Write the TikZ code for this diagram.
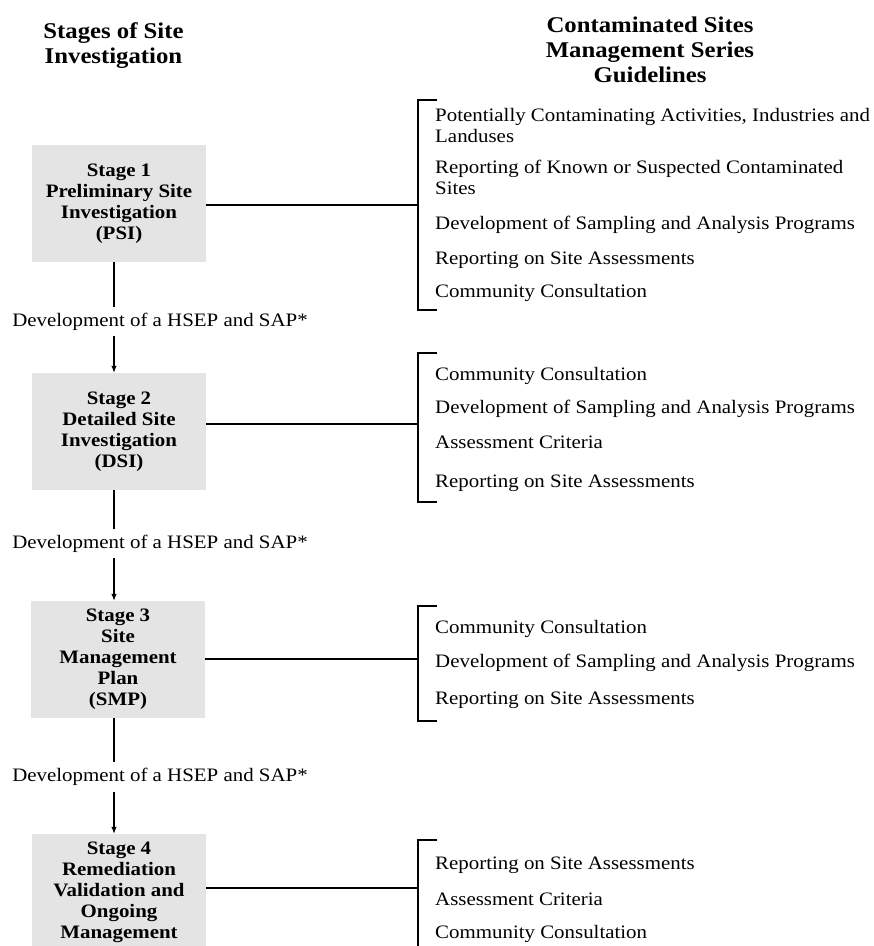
\documentclass[tikz,border=0pt]{standalone}
\usepackage{fontspec}
\setmainfont{Liberation Serif}[FakeStretch=1.1]
\usetikzlibrary{arrows.meta}
\definecolor{boxgray}{RGB}{228,228,228}
\begin{document}
\begin{tikzpicture}[x=1pt,y=-1pt,
  stagebox/.style={fill=boxgray, minimum width=174pt, minimum height=117pt, align=center, inner sep=0pt, font=\bfseries\fontsize{19}{21}\selectfont},
  item/.style={anchor=base west, inner sep=0pt, align=left, font=\fontsize{19}{21}\selectfont},
  itemtwo/.style={anchor=north west, inner sep=0pt, align=left, font=\fontsize{19}{21}\selectfont},
  flowlabel/.style={inner xsep=0pt, inner ysep=6pt, font=\fontsize{19}{21}\selectfont},
  header/.style={align=center, inner sep=0pt, font=\bfseries\fontsize{22.5}{25}\selectfont},
  conn/.style={line width=1.1pt},
  arr/.style={line width=1.1pt, -{Latex[length=7pt,width=5.5pt]}},
]
\useasboundingbox (0,0) rectangle (874,946);
\clip (0,0) rectangle (874,946);

% headers
\node[header] (h1) at (113.5,46) {Stages of Site\\Investigation};
\node[header] (h2) at (650,50) {Contaminated Sites\\Management Series\\Guidelines};

% stage boxes
\node[stagebox] (s1) at (119,203.5) {Stage 1\\Preliminary Site\\Investigation\\(PSI)};
\node[stagebox] (s2) at (119,431.5) {Stage 2\\Detailed Site\\Investigation\\(DSI)};
\node[stagebox] (s3) at (118,659.5) {Stage 3\\Site\\Management\\Plan\\(SMP)};
\node[stagebox] (s4) at (119,892.5) {Stage 4\\Remediation\\Validation and\\Ongoing\\Management};

% flow labels
\coordinate (v) at (114,0);
\node[flowlabel] (l1) at (160,321.5) {Development of a HSEP and SAP*};
\node[flowlabel] (l2) at (160,543.5) {Development of a HSEP and SAP*};
\node[flowlabel] (l3) at (160,777) {Development of a HSEP and SAP*};

\draw[conn] (s1.south -| v) -- (l1.north -| v);
\draw[arr] (l1.south -| v) -- (s2.north -| v);
\draw[conn] (s2.south -| v) -- (l2.north -| v);
\draw[arr] (l2.south -| v) -- (s3.north -| v);
\draw[conn] (s3.south -| v) -- (l3.north -| v);
\draw[arr] (l3.south -| v) -- (s4.north -| v);

% brackets
\coordinate (b1t) at (418,100);
\coordinate (b1b) at (418,310);
\coordinate (b1m) at (418,205);
\coordinate (b2t) at (418,353);
\coordinate (b2b) at (418,502);
\coordinate (b2m) at (418,424);
\coordinate (b3t) at (418,606);
\coordinate (b3b) at (418,721);
\coordinate (b3m) at (418,659);
\coordinate (b4t) at (418,840);
\coordinate (b4b) at (418,970);
\coordinate (b4m) at (418,888);

\draw[conn] ([xshift=19pt]b1t) -- (b1t) -- (b1b) -- ([xshift=19pt]b1b);
\draw[conn] ([xshift=19pt]b2t) -- (b2t) -- (b2b) -- ([xshift=19pt]b2b);
\draw[conn] ([xshift=19pt]b3t) -- (b3t) -- (b3b) -- ([xshift=19pt]b3b);
\draw[conn] ([xshift=19pt]b4t) -- (b4t) -- (b4b);

\draw[conn] (s1.east |- b1m) -- (b1m);
\draw[conn] (s2.east |- b2m) -- (b2m);
\draw[conn] (s3.east |- b3m) -- (b3m);
\draw[conn] (s4.east |- b4m) -- (b4m);

% guideline items
\node[itemtwo] (g11) at (435,108) {Potentially Contaminating Activities, Industries and\\Landuses};
\node[itemtwo] (g12) at (435,160) {Reporting of Known or Suspected Contaminated\\Sites};
\node[item] (g13) at (435,229) {Development of Sampling and Analysis Programs};
\node[item] (g14) at (435,264) {Reporting on Site Assessments};
\node[item] (g15) at (435,297) {Community Consultation};

\node[item] (g21) at (435,380) {Community Consultation};
\node[item] (g22) at (435,413) {Development of Sampling and Analysis Programs};
\node[item] (g23) at (435,448) {Assessment Criteria};
\node[item] (g24) at (435,487) {Reporting on Site Assessments};

\node[item] (g31) at (435,633) {Community Consultation};
\node[item] (g32) at (435,667) {Development of Sampling and Analysis Programs};
\node[item] (g33) at (435,704) {Reporting on Site Assessments};

\node[item] (g41) at (435,869) {Reporting on Site Assessments};
\node[item] (g42) at (435,905) {Assessment Criteria};
\node[item] (g43) at (435,938) {Community Consultation};
\end{tikzpicture}
\end{document}
